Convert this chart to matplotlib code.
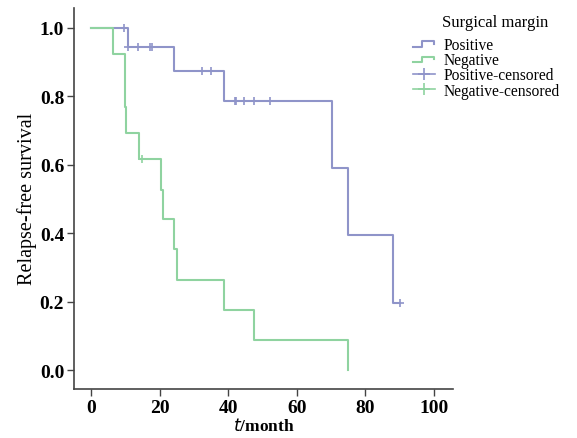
import numpy as np
import matplotlib
matplotlib.use('Agg')
import matplotlib.pyplot as plt
from matplotlib.legend_handler import HandlerBase
from matplotlib.lines import Line2D

# Kaplan-Meier steps
pos_time = [0, 10.9, 24.3, 38.9, 70.2, 74.8, 88.0, 90.0]
pos_surv = [1.0, 0.944, 0.873, 0.785, 0.589, 0.393, 0.196, 0.196]
pos_cens_time = [9.7, 10.8, 13.8, 17.1, 17.8, 32.4, 34.9, 41.9, 42.3, 44.5, 47.4, 52.1, 90.0]
pos_cens_surv = [1.0, 0.944, 0.944, 0.944, 0.944, 0.873, 0.873, 0.785, 0.785, 0.785, 0.785, 0.785, 0.196]

neg_time = [0, 6.4, 9.8, 10.2, 13.9, 20.5, 20.9, 24.2, 25.0, 38.9, 47.4, 74.8]
neg_surv = [1.0, 0.923, 0.769, 0.692, 0.615, 0.527, 0.440, 0.352, 0.264, 0.176, 0.088, 0.0]
neg_cens_time = [14.9]
neg_cens_surv = [0.615]

x_ticks = [0, 20, 40, 60, 80, 100]
y_ticks = [0.0, 0.2, 0.4, 0.6, 0.8, 1.0]
labels = ['Positive', 'Negative', 'Positive-censored', 'Negative-censored']

blue = '#8f94c9'
green = '#8fd3a0'

plt.rcParams['font.family'] = ['Liberation Serif', 'DejaVu Serif']


class StepHandler(HandlerBase):
    # little step glyph used as legend key for the survival curves
    def create_artists(self, legend, orig_handle, xdescent, ydescent,
                       width, height, fontsize, trans):
        xs = np.array([0.0, 0.4, 0.4, 0.95, 0.95]) * width - xdescent
        ys = np.array([0.2, 0.2, 0.7, 0.7, 0.45]) * height - ydescent
        ln = Line2D(xs, ys, color=orig_handle.get_color(), lw=1.5)
        ln.set_transform(trans)
        return [ln]


fig = plt.figure(figsize=(5.77, 4.39), dpi=100)
ax = fig.add_axes([0.128, 0.112, 0.657, 0.868])

l1, = ax.step(pos_time, pos_surv, where='post', color=blue, lw=1.5)
l2, = ax.step(neg_time, neg_surv, where='post', color=green, lw=1.5)
ax.plot(pos_cens_time, pos_cens_surv, '+', color=blue, ms=5.5, mew=1.2, ls='none')
ax.plot(neg_cens_time, neg_cens_surv, '+', color=green, ms=5.5, mew=1.2, ls='none')

ax.set_xlim(-5, 105.5)
ax.set_ylim(-0.055, 1.058)
ax.set_xticks(x_ticks)
ax.set_yticks(y_ticks)
ax.set_xticklabels([str(t) for t in x_ticks], fontsize=14, fontweight='bold')
ax.set_yticklabels(['%.1f' % t for t in y_ticks], fontsize=14, fontweight='bold')
ax.tick_params(direction='out', length=5, width=1, color='#444444', pad=2)
for s in ['top', 'right']:
    ax.spines[s].set_visible(False)
for s in ['left', 'bottom']:
    ax.spines[s].set_color('#444444')
    ax.spines[s].set_linewidth(1.2)

ax.set_xlabel(r'$\mathbf{\mathit{t}}$/month', fontsize=12.5, fontweight='bold', labelpad=1)
ax.set_ylabel('Relapse-free survival', fontsize=14.5, labelpad=2)

# legend proxies for the censor marks: short line with a plus
p1 = Line2D([], [], color=blue, marker='+', ms=8, mew=1.2, lw=1.2)
p2 = Line2D([], [], color=green, marker='+', ms=8, mew=1.2, lw=1.2)

leg = fig.legend([l1, l2, p1, p2], labels,
                 handler_map={l1: StepHandler(), l2: StepHandler()},
                 loc='upper left', bbox_to_anchor=(413 / 577, 1 - 38 / 439),
                 frameon=False, borderpad=0, borderaxespad=0,
                 fontsize=11.2, labelspacing=-0.05,
                 handlelength=1.4, handletextpad=0.55)
fig.text(441.7 / 577, 1 - 26.7 / 439, 'Surgical margin', fontsize=12,
         ha='left', va='baseline')

fig.savefig('out.png', dpi=100)
